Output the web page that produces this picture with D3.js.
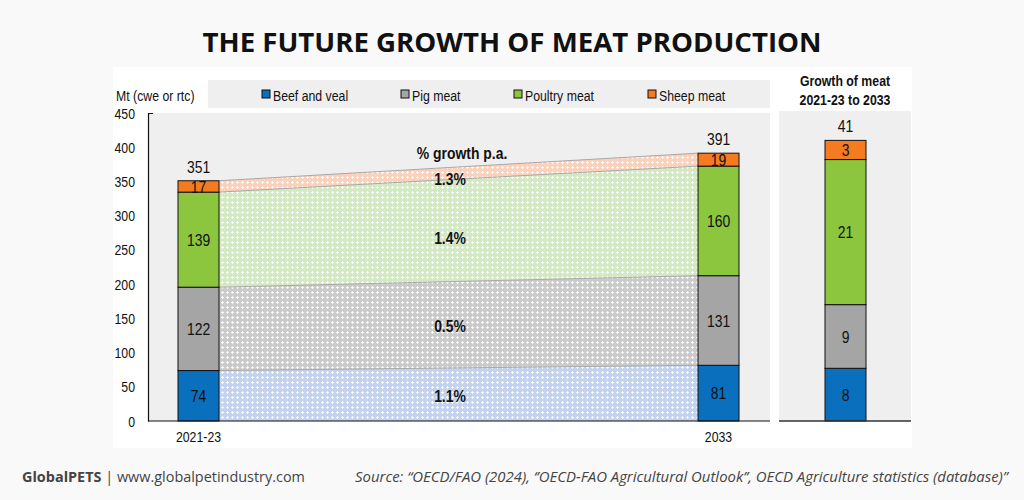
<!DOCTYPE html>
<html><head><meta charset="utf-8">
<script src="https://cdn.jsdelivr.net/npm/d3@7"></script>
<style>
html,body{margin:0;padding:0;background:#f9f9f9;}
svg{display:block;}
.cf text{font-family:"Liberation Sans",Arial,sans-serif;}
</style></head>
<body><svg id="c" width="1024" height="500"></svg>
<script>
const series = ["Beef and veal","Pig meat","Poultry meat","Sheep meat"];
const periods = ["2021-23","2033"];
const base = [73.7, 121.8, 138.9, 16.6];
const proj = [81.4, 130.9, 160.1, 18.9];
const growth = [7.7, 9.3, 21.2, 2.8];
const growthRate = ["1.1%","0.5%","1.4%","1.3%"];
const yTicks = [0,50,100,150,200,250,300,350,400,450];
const colors = ["#0a70bd","#a5a5a5","#8cc63f","#f47b20"];
const lightColors = ["#c3d3ef","#cbcbcb","#d3e9c3","#fbd1bc"];

const SX = 0.82; // narrow-font emulation
const svg = d3.select("#c");
const defs = svg.append("defs");
lightColors.forEach((c,i)=>{
  const p = defs.append("pattern").attr("id","pat"+i).attr("patternUnits","userSpaceOnUse")
    .attr("width",5).attr("height",5);
  p.append("rect").attr("width",5).attr("height",5).attr("fill",c);
  p.append("rect").attr("x",2).attr("y",1).attr("width",1).attr("height",3).attr("fill","#fff").attr("opacity",0.85);
  p.append("rect").attr("x",1).attr("y",2).attr("width",3).attr("height",1).attr("fill","#fff").attr("opacity",0.85);
});

// Title
svg.append("text").attr("x",512).attr("y",52).attr("text-anchor","middle")
  .attr("font-family","'Open Sans','Noto Sans',sans-serif").attr("font-weight","bold")
  .attr("font-size",27).attr("fill","#111").attr("textLength",619).attr("lengthAdjust","spacingAndGlyphs")
  .text("THE FUTURE GROWTH OF MEAT PRODUCTION");

// white panel
svg.append("rect").attr("x",113).attr("y",67).attr("width",799).attr("height",381).attr("fill","#fff");

const g = svg.append("g").attr("class","cf");

function txt(x, yy, str, o={}){
  return g.append("text").attr("transform",`translate(${x},${yy}) scale(${SX},1)`)
    .attr("text-anchor",o.anchor||"start").attr("dy",o.dy||null)
    .attr("font-size",o.size||15).attr("font-weight",o.weight||"normal").attr("fill","#111").text(str);
}

// legend box
g.append("rect").attr("x",208).attr("y",80).attr("width",562).attr("height",28).attr("fill","#efefef");
txt(116,101,"Mt (cwe or rtc)",{size:15});
const legX = [262,401,514,648];
series.forEach((s,i)=>{
  g.append("rect").attr("x",legX[i]).attr("y",90).attr("width",8).attr("height",8)
    .attr("fill",colors[i]).attr("stroke","#111").attr("stroke-width",1);
  txt(legX[i]+11,100.5,s,{size:15});
});

// plot area
g.append("rect").attr("x",148).attr("y",113).attr("width",622).attr("height",308).attr("fill","#efefef");
g.append("rect").attr("x",779).attr("y",111).attr("width",132).attr("height",310).attr("fill","#efefef");

const y = d3.scaleLinear().domain([0,450]).range([421,113]);
const barW = 41;
const xPos = d3.scalePoint().domain(periods).range([178+barW/2, 698+barW/2]);

const stack = arr => { let c=0; return arr.map(v=>{const r=[c,c+v]; c+=v; return r;}); };
const sb = stack(base), sp = stack(proj), sg = stack(growth);

// connecting areas
const xl = xPos("2021-23")+barW/2, xr = xPos("2033")-barW/2;
series.forEach((s,i)=>{
  const pts = [[xl,y(sb[i][0])],[xr,y(sp[i][0])],[xr,y(sp[i][1])],[xl,y(sb[i][1])]];
  g.append("path").attr("d",d3.line()(pts)+"Z").attr("fill","url(#pat"+i+")");
});
series.forEach((s,i)=>{
  g.append("line").attr("x1",xl).attr("x2",xr).attr("y1",y(sb[i][1])).attr("y2",y(sp[i][1]))
    .attr("stroke","#a8a8a8").attr("stroke-width",1);
});
const lx = 450, t = (lx-xl)/(xr-xl);
const lblOff = [2,1,7,6];
series.forEach((s,i)=>{
  const bot = y(sb[i][0])*(1-t)+y(sp[i][0])*t, top = y(sb[i][1])*(1-t)+y(sp[i][1])*t;
  txt(lx,(bot+top)/2+lblOff[i],growthRate[i],{anchor:"middle",dy:"0.35em",size:17,weight:"bold"});
});
txt(462,153,"% growth p.a.",{anchor:"middle",dy:"0.35em",size:17,weight:"bold"});

// bars
function drawBar(stk, vals, cx, yS, total){
  stk.forEach((d,i)=>{
    g.append("rect").attr("x",cx-barW/2).attr("y",yS(d[1])).attr("width",barW).attr("height",yS(d[0])-yS(d[1]))
      .attr("fill",colors[i]).attr("stroke","#111").attr("stroke-width",1);
  });
  stk.forEach((d,i)=>{
    txt(cx,(yS(d[0])+yS(d[1]))/2,Math.round(vals[i]),{anchor:"middle",dy:"0.36em",size:17});
  });
  txt(cx,yS(stk[stk.length-1][1])-8,Math.round(total),{anchor:"middle",size:17});
}
drawBar(sb, base, xPos("2021-23"), y, d3.sum(base));
drawBar(sp, proj, xPos("2033"), y, d3.sum(proj));

// axes
const yAxis = d3.axisLeft(y).tickValues(yTicks).tickSize(0).tickPadding(12);
const ya = g.append("g").attr("transform","translate(148,0)").call(yAxis);
ya.select(".domain").attr("stroke","#111").attr("stroke-width",1.2);
ya.selectAll(".tick text").each(function(){
  const el = d3.select(this);
  el.attr("x",null).attr("dy","0.34em").attr("font-size",15).attr("fill","#111").attr("font-family",null)
    .attr("transform",`translate(-13,0) scale(${SX},1)`);
});
g.append("line").attr("x1",148).attr("x2",153).attr("y1",113.5).attr("y2",113.5).attr("stroke","#111");
g.append("line").attr("x1",148).attr("x2",770).attr("y1",421).attr("y2",421).attr("stroke","#111").attr("stroke-width",1.2);
periods.forEach(p=>{
  txt(xPos(p),437,p,{anchor:"middle",dy:"0.35em",size:15});
});

// right panel
const y2 = d3.scaleLinear().domain([0,45]).range([421,113]);
txt(845,86,"Growth of meat",{anchor:"middle",size:15,weight:"bold"});
txt(845,105,"2021-23 to 2033",{anchor:"middle",size:15,weight:"bold"});
drawBar(sg, growth, 845.5, y2, d3.sum(growth));
g.append("line").attr("x1",779).attr("x2",911).attr("y1",421).attr("y2",421).attr("stroke","#333").attr("stroke-width",1.5);

// footer
const ft = svg.append("text").attr("x",22).attr("y",482).attr("font-family","'Open Sans','Noto Sans',sans-serif").attr("font-size",14).attr("fill","#444")
  .attr("textLength",283).attr("lengthAdjust","spacingAndGlyphs");
ft.append("tspan").attr("font-weight","bold").text("GlobalPETS");
ft.append("tspan").text(" | www.globalpetindustry.com");
svg.append("text").attr("x",1008).attr("y",482).attr("text-anchor","end").attr("font-family","'Open Sans','Noto Sans',sans-serif")
  .attr("font-style","italic").attr("font-size",14).attr("fill","#444").attr("textLength",653).attr("lengthAdjust","spacingAndGlyphs")
  .text("Source: \u201cOECD/FAO (2024), \u2018\u2019OECD-FAO Agricultural Outlook\u2019\u2019, OECD Agriculture statistics (database)\u201d");
</script></body></html>
